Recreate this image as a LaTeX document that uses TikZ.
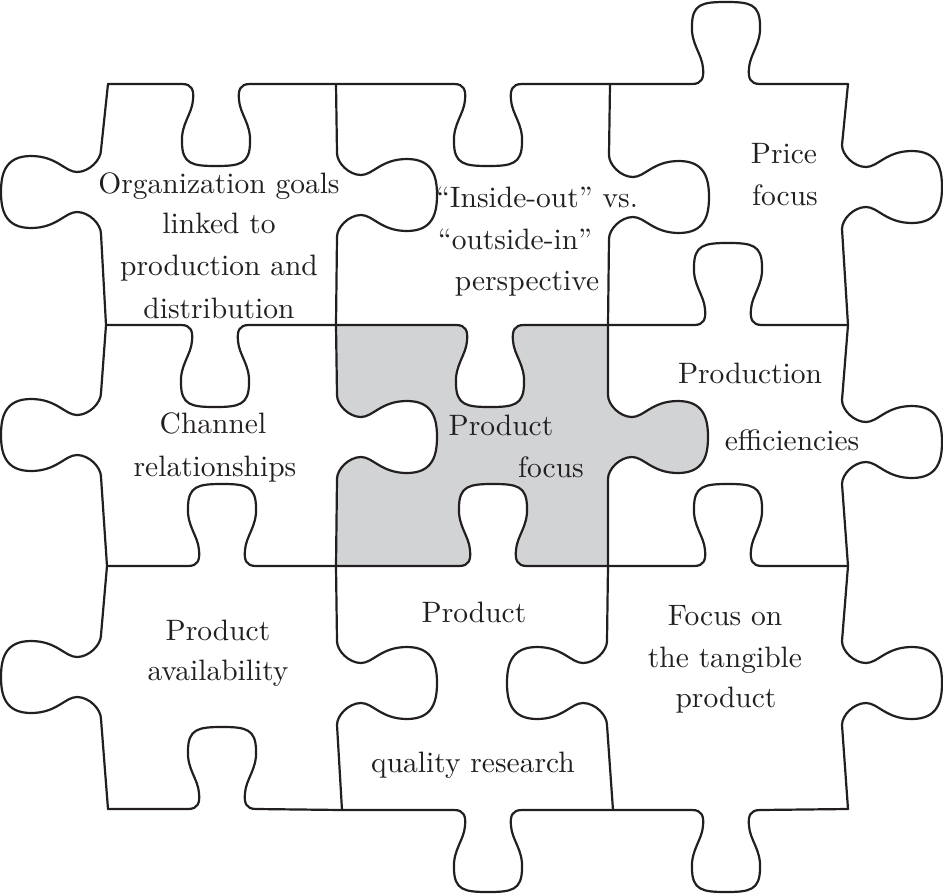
\documentclass[tikz,border=0pt]{standalone}
\usepackage{fontspec}
\setmainfont{lmroman10-regular.otf}
\definecolor{ink}{RGB}{35,31,32}
\definecolor{piecegray}{RGB}{209,211,212}
\tikzset{
  % horizontal knob: #1 centre x, #2 edge y, #3 +1 bulge up / -1 bulge down, #4 +1 left->right / -1 right->left
  hk/.style n args={4}{insert path={
    -- ({#1+(#4)*(-34)},{#2})
    .. controls ({#1+(#4)*(-24)},{#2}) and ({#1+(#4)*(-22)},{#2-(#3)*6}) .. ({#1+(#4)*(-23)},{#2-(#3)*16})
    .. controls ({#1+(#4)*(-24)},{#2-(#3)*30}) and ({#1+(#4)*(-35)},{#2-(#3)*40}) .. ({#1+(#4)*(-34)},{#2-(#3)*58})
    .. controls ({#1+(#4)*(-34)},{#2-(#3)*80}) and ({#1+(#4)*(-24)},{#2-(#3)*82}) .. ({#1},{#2-(#3)*82})
    .. controls ({#1+(#4)*24},{#2-(#3)*82}) and ({#1+(#4)*34},{#2-(#3)*80}) .. ({#1+(#4)*34},{#2-(#3)*58})
    .. controls ({#1+(#4)*35},{#2-(#3)*40}) and ({#1+(#4)*24},{#2-(#3)*30}) .. ({#1+(#4)*23},{#2-(#3)*16})
    .. controls ({#1+(#4)*22},{#2-(#3)*6}) and ({#1+(#4)*24},{#2}) .. ({#1+(#4)*34},{#2})
  }},
  % vertical knob: #1 centre y, #2 edge x, #3 +1 bulge right / -1 bulge left, #4 +1 top->bottom / -1 bottom->top
  vk/.style n args={4}{insert path={
    -- ({#2},{#1+(#4)*(-42)})
    .. controls ({#2},{#1+(#4)*(-32)}) and ({#2+(#3)*12},{#1+(#4)*(-20)}) .. ({#2+(#3)*24},{#1+(#4)*(-20)})
    .. controls ({#2+(#3)*36},{#1+(#4)*(-20)}) and ({#2+(#3)*44},{#1+(#4)*(-36)}) .. ({#2+(#3)*70},{#1+(#4)*(-36)})
    .. controls ({#2+(#3)*96},{#1+(#4)*(-36)}) and ({#2+(#3)*100},{#1+(#4)*(-18)}) .. ({#2+(#3)*100},{#1})
    .. controls ({#2+(#3)*100},{#1+(#4)*18}) and ({#2+(#3)*96},{#1+(#4)*36}) .. ({#2+(#3)*70},{#1+(#4)*36})
    .. controls ({#2+(#3)*44},{#1+(#4)*36}) and ({#2+(#3)*36},{#1+(#4)*20}) .. ({#2+(#3)*24},{#1+(#4)*20})
    .. controls ({#2+(#3)*12},{#1+(#4)*20}) and ({#2},{#1+(#4)*32}) .. ({#2},{#1+(#4)*42})
  }},
  seam/.style={draw=ink, line width=2.2pt, line join=round, line cap=round},
  lbl/.style={anchor=base, inner sep=0pt, text=ink, font=\fontsize{29.5}{36}\selectfont}
}
\begin{document}
\begin{tikzpicture}[x=1pt,y=-1pt]
\useasboundingbox (0,0) rectangle (943,895);
% grey centre piece
\fill[piecegray] (337,325) [hk={490}{325}{-1}{1}] -- (608,325) [vk={437}{608}{1}{1}]
  -- (608,566) [hk={493}{566}{1}{-1}] -- (336,566) [vk={437}{337}{1}{-1}] -- cycle;
% horizontal seams
\draw[seam] (108,84) [hk={216}{84}{-1}{1}] [hk={488}{84}{-1}{1}] [hk={726}{84}{1}{1}] -- (848,84);
\draw[seam] (106,325) [hk={215}{325}{-1}{1}] [hk={490}{325}{-1}{1}] [hk={728}{325}{1}{1}] -- (848,325);
\draw[seam] (107,566) [hk={222}{566}{1}{1}] [hk={493}{566}{1}{1}] [hk={728}{566}{1}{1}] -- (848,566);
\draw[seam] (108,809) [hk={222}{809}{1}{1}] -- (342,810) [hk={488}{810}{-1}{1}] [hk={726}{810}{-1}{1}] -- (848,809);
% vertical seams
\draw[seam] (108,84) [vk={192}{101}{-1}{1}] -- (106,325) [vk={435}{101}{-1}{1}] -- (107,566) [vk={677}{101}{-1}{1}] -- (108,809);
\draw[seam] (336,84) [vk={195}{337}{1}{1}] -- (336,325) [vk={437}{337}{1}{1}] -- (336,566) [vk={683}{337}{1}{1}] -- (342,810);
\draw[seam] (610,84) [vk={197}{609}{1}{1}] -- (608,325) [vk={437}{608}{1}{1}] -- (608,566) [vk={683}{607}{-1}{1}] -- (613,810);
\draw[seam] (848,84) [vk={187}{842}{1}{1}] -- (848,325) [vk={442}{842}{1}{1}] -- (848,566) [vk={683}{842}{1}{1}] -- (848,809);
% labels
\node[lbl] (p1a) at (219,193) {Organization goals};
\node[lbl] (p1b) at (219,233) {linked to};
\node[lbl] (p1c) at (219,275) {production and};
\node[lbl] (p1d) at (219,318) {distribution};
\node[lbl] (p2a) at (537,207) {“Inside-out” vs.};
\node[lbl] (p2b) at (515,249) {“outside-in”};
\node[lbl] (p2c) at (527,290) {perspective};
\node[lbl] (p3a) at (784,163) {Price};
\node[lbl] (p3b) at (785,205) {focus};
\node[lbl] (p4a) at (213,433) {Channel};
\node[lbl] (p4b) at (215,476) {relationships};
\node[lbl] (p5a) at (501,435) {Product};
\node[lbl] (p5b) at (551,477) {focus};
\node[lbl] (p6a) at (750,383) {Production};
\node[lbl] (p6b) at (792,450) {efficiencies};
\node[lbl] (p7a) at (218,640) {Product};
\node[lbl] (p7b) at (218,680) {availability};
\node[lbl] (p8a) at (474,622) {Product};
\node[lbl] (p8b) at (473,772) {quality research};
\node[lbl] (p9a) at (725,625) {Focus on};
\node[lbl] (p9b) at (725,667) {the tangible};
\node[lbl] (p9c) at (726,707) {product};
\end{tikzpicture}
\end{document}
